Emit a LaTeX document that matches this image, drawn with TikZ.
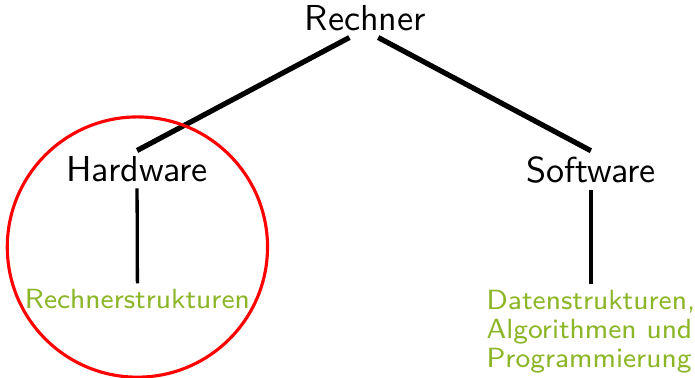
\documentclass[tikz,border=0pt]{standalone}
\usepackage{xcolor}
\definecolor{topicgreen}{RGB}{140,182,40}
\usetikzlibrary{positioning}

\begin{document}
\begin{tikzpicture}[
  x=1pt,y=1pt,
  font=\sffamily\fontsize{10.4}{12}\selectfont,
  level/.style={inner sep=1.6pt,anchor=base},
  leaf/.style={level,text=topicgreen,font=\sffamily\fontsize{8}{8.4}\selectfont,align=left},
  branch/.style={draw=black,line width=1.5pt},
  stem/.style={draw=black,line width=0.95pt},
  hilite/.style={draw=red,line width=0.9pt}
]
\useasboundingbox (0,0) rectangle (200.3,-108.9);
\node[level] (rechner) at (105.3,-8.9) {Rechner};
\node[level] (hw) at (39.5,-52.4) {Hardware};
\node[level] (sw) at (170.3,-52.7) {Software};
\node[leaf] (rs) at (39.6,-89.0) {Rechnerstrukturen};
\node[leaf,anchor=north] (ds) at (170.3,-81.8) {Datenstrukturen,\\Algorithmen und\\Programmierung};
\draw[branch] ([xshift=-4.6pt]rechner.south) -- (hw.north);
\draw[branch] ([xshift=3.7pt]rechner.south) -- (sw.north);
\draw[stem] (hw.south) -- (rs.north);
\draw[stem] (sw.south) -- (ds.north);
% Hardware branch is circled
\draw[hilite] (39.6,-71.2) circle (37.5);
\end{tikzpicture}
\end{document}
